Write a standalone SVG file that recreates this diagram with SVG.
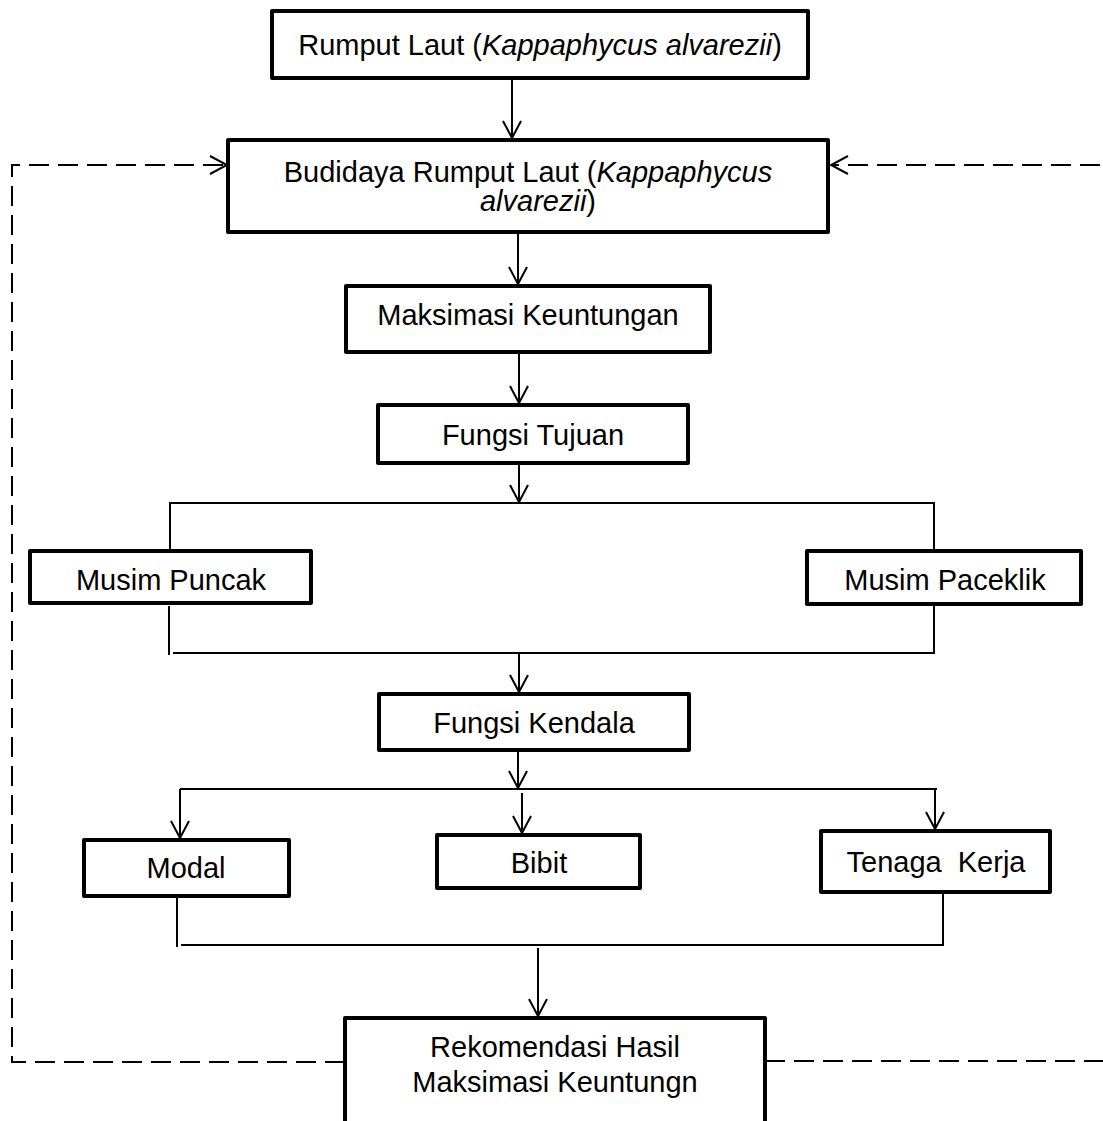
<svg xmlns="http://www.w3.org/2000/svg" width="1103" height="1121" viewBox="0 0 1103 1121">
<style>
.box{fill:#fff;stroke:#000;stroke-width:4;stroke-linejoin:round}
.t{font-family:"Liberation Sans",Arial,sans-serif;font-size:29px;fill:#000;text-anchor:middle;white-space:pre}
.ln{fill:none;stroke:#000;stroke-width:2}
.ds{fill:none;stroke:#000;stroke-width:2;stroke-dasharray:20 9}
</style>
<defs>
<marker id="arr" viewBox="0 0 20 20" markerWidth="20" markerHeight="20" refX="18" refY="10" orient="auto" markerUnits="userSpaceOnUse">
<path d="M1 1 L18 10 L1 19" fill="none" stroke="#000" stroke-width="2"/>
</marker>
</defs>
<rect width="1103" height="1121" fill="#fff"/>
<g id="connectors">
<path class="ds" d="M345 1062 H12 V165 H227" marker-end="url(#arr)"/>
<path class="ds" d="M765 1061 H1108 V165 H831" marker-end="url(#arr)"/>
<path class="ln" d="M512 80 V138" marker-end="url(#arr)"/>
<path class="ln" d="M518 234 V284" marker-end="url(#arr)"/>
<path class="ln" d="M519 354 V403" marker-end="url(#arr)"/>
<path class="ln" d="M519 465 V502" marker-end="url(#arr)"/>
<path class="ln" d="M170 549 V503 H934 V549"/>
<path class="ln" d="M169 606 V655"/>
<path class="ln" d="M173 653 H934 V606"/>
<path class="ln" d="M519 653 V692" marker-end="url(#arr)"/>
<path class="ln" d="M518 752 V788" marker-end="url(#arr)"/>
<path class="ln" d="M180 789 H937"/>
<path class="ln" d="M180 789 V838" marker-end="url(#arr)"/>
<path class="ln" d="M522 793 V833" marker-end="url(#arr)"/>
<path class="ln" d="M935 789 V829" marker-end="url(#arr)"/>
<path class="ln" d="M177 898 V947"/>
<path class="ln" d="M181 945 H943 V894"/>
<path class="ln" d="M538 948 V1016" marker-end="url(#arr)"/>
</g>
<g id="n-rumput">
<rect class="box" x="272" y="11" width="536" height="67"/>
<text class="t" x="540" y="55">Rumput Laut (<tspan font-style="italic">Kappaphycus alvarezii</tspan>)</text>
</g>
<g id="n-budidaya">
<rect class="box" x="228" y="140" width="600" height="92"/>
<text class="t" x="528" y="182">Budidaya Rumput Laut (<tspan font-style="italic">Kappaphycus</tspan></text>
<text class="t" x="538" y="211"><tspan font-style="italic">alvarezii</tspan>)</text>
</g>
<g id="n-maksimasi">
<rect class="box" x="346" y="286" width="364" height="66"/>
<text class="t" x="528" y="325">Maksimasi Keuntungan</text>
</g>
<g id="n-tujuan">
<rect class="box" x="378" y="405" width="310" height="58"/>
<text class="t" x="533" y="445">Fungsi Tujuan</text>
</g>
<g id="n-puncak">
<rect class="box" x="30" y="551" width="281" height="52"/>
<text class="t" x="171" y="590">Musim Puncak</text>
</g>
<g id="n-paceklik">
<rect class="box" x="807" y="551" width="274" height="53"/>
<text class="t" x="945" y="590">Musim Paceklik</text>
</g>
<g id="n-kendala">
<rect class="box" x="379" y="694" width="310" height="56"/>
<text class="t" x="534" y="733">Fungsi Kendala</text>
</g>
<g id="n-modal">
<rect class="box" x="84" y="840" width="205" height="56"/>
<text class="t" x="186" y="878">Modal</text>
</g>
<g id="n-bibit">
<rect class="box" x="437" y="835" width="203" height="53"/>
<text class="t" x="539" y="873">Bibit</text>
</g>
<g id="n-tenaga">
<rect class="box" x="821" y="831" width="229" height="61"/>
<text class="t" x="936" y="872">Tenaga  Kerja</text>
</g>
<g id="n-rekomendasi">
<rect class="box" x="345" y="1018" width="420" height="140"/>
<text class="t" x="555" y="1057">Rekomendasi Hasil</text>
<text class="t" x="555" y="1092">Maksimasi Keuntungn</text>
</g>
</svg>
